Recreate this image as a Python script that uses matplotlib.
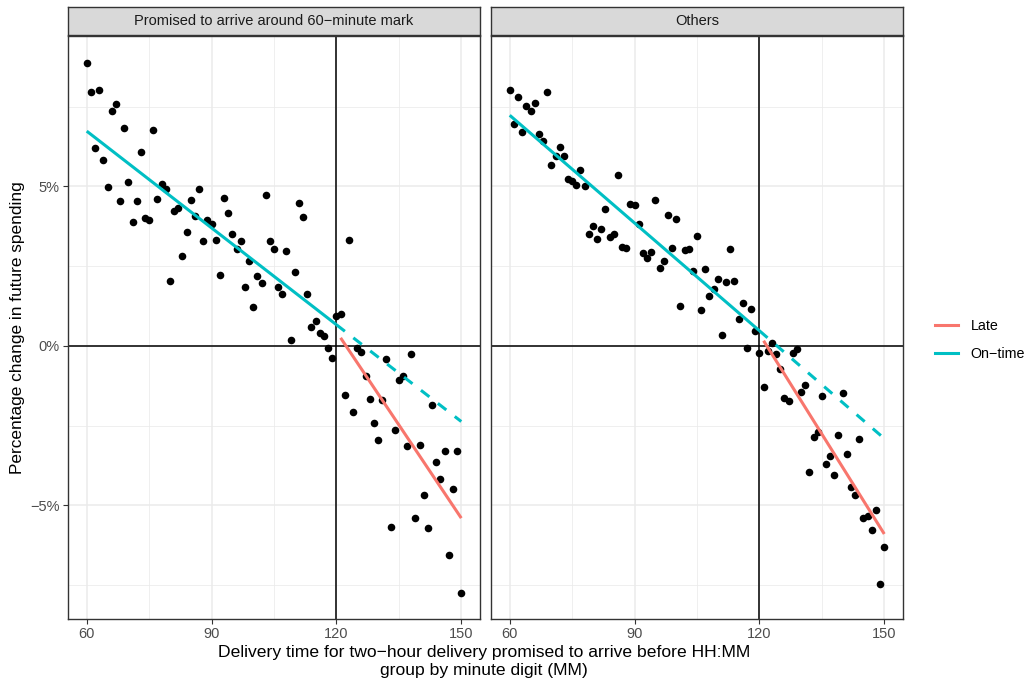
import matplotlib.pyplot as plt
import matplotlib.ticker as mticker
from matplotlib.lines import Line2D
import numpy as np

plt.rcParams.update({
    "font.family": ["Liberation Sans", "DejaVu Sans"],
})

RED, TEAL = "#F8766D", "#00BFC4"
BORDER, GRID = "#333333", "#EBEBEB"

# Data (minute of promised arrival, % change in future spending)
minutes = np.arange(60, 151)
cutoff = 120
panel_titles = ["Promised to arrive around 60\u2212minute mark", "Others"]

spend_60mark = [
    8.88, 7.97, 6.19, 8.02, 5.83, 4.98, 7.35, 7.58, 4.53, 6.82,
    5.13, 3.88, 4.54, 6.08, 4.00, 3.94, 6.77, 4.61, 5.08, 4.90,
    2.02, 4.24, 4.31, 2.81, 3.58, 4.57, 4.08, 4.90, 3.29, 3.93,
    3.82, 3.33, 2.23, 4.64, 4.17, 3.51, 3.03, 3.29, 1.83, 2.66,
    1.23, 2.18, 1.97, 4.72, 3.29, 3.04, 1.83, 1.64, 2.98, 0.18,
    2.33, 4.49, 4.04, 1.61, 0.58, 0.79, 0.40, 0.31, -0.07, -0.39,
    0.95, 1.00, -1.53, 3.33, -2.06, -0.07, -0.20, -0.93, -1.66, -2.41,
    -2.96, -1.70, -0.42, -5.68, -2.63, -1.06, -0.93, -3.15, -0.24, -5.39,
    -3.10, -4.66, -5.71, -1.85, -3.65, -4.17, -3.30, -6.57, -4.50, -3.29,
    -7.73,
]
spend_others = [
    8.01, 6.96, 7.81, 6.70, 7.51, 7.35, 7.62, 6.64, 6.42, 7.95,
    5.66, 5.96, 6.23, 5.96, 5.24, 5.18, 5.03, 5.51, 5.02, 3.50,
    3.77, 3.36, 3.66, 4.30, 3.41, 3.50, 5.34, 3.11, 3.07, 4.45,
    4.41, 3.81, 2.90, 2.75, 2.95, 4.57, 2.44, 2.66, 4.09, 3.08,
    3.96, 1.26, 3.00, 3.05, 2.34, 3.43, 1.13, 2.42, 1.56, 1.77,
    2.10, 0.33, 2.01, 3.02, 2.03, 0.85, 1.34, -0.07, 1.15, 0.45,
    -0.21, -1.28, -0.15, 0.08, -0.25, -0.71, -1.65, -1.72, -0.21, -0.10,
    -1.45, -1.23, -3.96, -2.85, -2.69, -1.57, -3.71, -3.45, -4.04, -2.78,
    -1.48, -3.40, -4.43, -4.66, -2.93, -5.39, -5.33, -5.77, -5.15, -7.47,
    -6.31,
]

fig = plt.figure(figsize=(10.27, 6.87), dpi=100)
W, H = 1027, 687

all_y = np.array(spend_60mark + spend_others)
pad = 0.05 * (all_y.max() - all_y.min())
ylim = (all_y.min() - pad, all_y.max() + pad)
xlim = (60 - 4.5, 150 + 4.5)

panels = [(68, spend_60mark), (491, spend_others)]
for i, (left_px, vals) in enumerate(panels):
    y = np.array(vals)
    ax = fig.add_axes([left_px / W, (H - 619) / H, 412 / W, 583 / H])
    ax.set_xlim(*xlim)
    ax.set_ylim(*ylim)

    ax.set_xticks([60, 90, 120, 150])
    ax.set_xticks([75, 105, 135], minor=True)
    ax.set_yticks([-5, 0, 5])
    ax.set_yticks([-7.5, -2.5, 2.5, 7.5], minor=True)
    ax.grid(which="major", color=GRID, lw=1.1, zorder=0)
    ax.grid(which="minor", color=GRID, lw=0.55, zorder=0)
    ax.set_axisbelow(True)
    ax.tick_params(which="minor", length=0)
    ax.tick_params(which="major", length=3.5, width=0.8, color=BORDER,
                   labelsize=10.5, labelcolor="#4D4D4D", pad=2.5)
    ax.yaxis.set_major_formatter(mticker.FuncFormatter(
        lambda v, _: f"{v:.0f}%".replace("-", "\u2212")))
    if i == 1:
        ax.tick_params(axis="y", left=False, labelleft=False)
    for s in ax.spines.values():
        s.set_color(BORDER)
        s.set_linewidth(1.0)

    ax.axvline(cutoff, color="black", lw=1.1, zorder=2)
    ax.axhline(0, color="black", lw=1.1, zorder=2)

    ax.scatter(minutes, y, s=30, color="black", linewidths=0, zorder=3)

    on = minutes <= cutoff
    late = minutes > cutoff
    b_on = np.polyfit(minutes[on], y[on], 1)
    b_late = np.polyfit(minutes[late], y[late], 1)
    xs_on = np.array([60, cutoff])
    xs_ext = np.array([cutoff, 150])
    xs_late = np.array([cutoff + 1, 150])
    ax.plot(xs_on, np.polyval(b_on, xs_on), color=TEAL, lw=2.2, zorder=4,
            solid_capstyle="butt")
    ax.plot(xs_ext, np.polyval(b_on, xs_ext), color=TEAL, lw=2.2, zorder=4,
            dashes=(3.5, 3.5))
    ax.plot(xs_late, np.polyval(b_late, xs_late), color=RED, lw=2.2, zorder=4,
            solid_capstyle="butt")

    # facet strip
    sax = fig.add_axes([left_px / W, (H - 35) / H, 412 / W, 28 / H])
    sax.set_facecolor("#D9D9D9")
    sax.set_xticks([]); sax.set_yticks([])
    for s in sax.spines.values():
        s.set_color(BORDER)
        s.set_linewidth(1.0)
    sax.text(0.5, 0.5, panel_titles[i], ha="center", va="center",
             fontsize=10.5, color="#1A1A1A", transform=sax.transAxes)

fig.text(18 / W, (H - 328) / H, "Percentage change in future spending",
         rotation=90, ha="center", va="center", fontsize=12.4)
fig.text(484 / W, (H - 652) / H,
         "Delivery time for two\u2212hour delivery promised to arrive before HH:MM",
         ha="center", va="center", fontsize=12.6)
fig.text(484 / W, (H - 671) / H, "group by minute digit (MM)",
         ha="center", va="center", fontsize=12.6)

handles = [Line2D([], [], color=RED, lw=2.2),
           Line2D([], [], color=TEAL, lw=2.2)]
fig.legend(handles, ["Late", "On\u2212time"], loc="center left",
           bbox_to_anchor=(922 / W, (H - 340) / H), frameon=False,
           fontsize=10.3, handlelength=1.6, handletextpad=0.9, labelspacing=1.0)

fig.savefig("out.png", dpi=100)
